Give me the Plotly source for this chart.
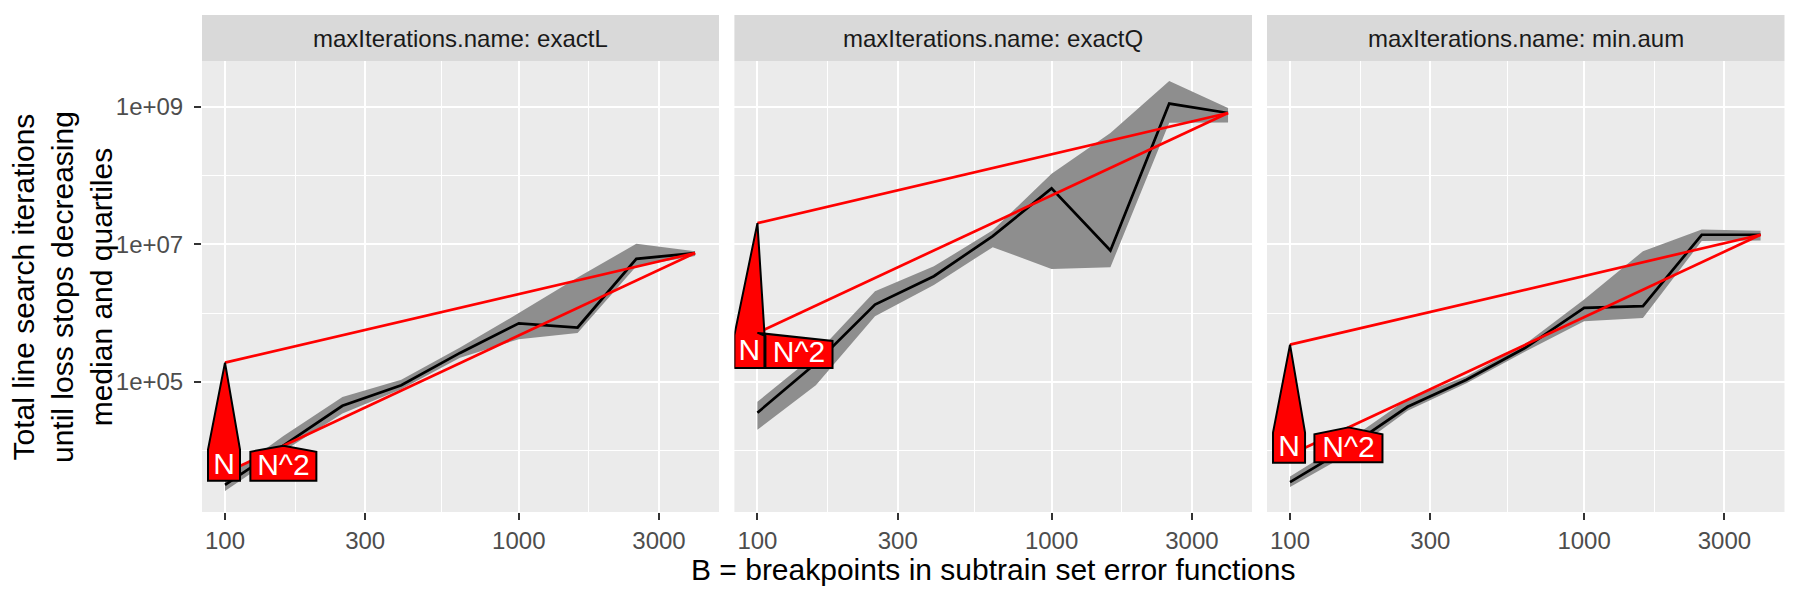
import math
import plotly.graph_objects as go

# ---------------- data ----------------
B = [100, 158, 251, 398, 631, 1000, 1585, 2512, 3981]
panel_names = ["exactL", "exactQ", "min.aum"]

median_exactL = [3160, 11700, 44700, 89100, 263000, 708000, 617000, 6170000, 7480000]
q25_exactL = [2570, 9770, 34700, 77600, 224000, 417000, 513000, 4790000, 6760000]
q75_exactL = [3980, 16200, 60300, 107000, 316000, 1000000, 3300000, 10200000, 7940000]

median_exactQ = [35500, 186000, 1330000, 3440000, 13200000, 65200000, 8150000, 1120000000, 817000000]
q25_exactQ = [20000, 89100, 902000, 2570000, 9120000, 4400000, 4650000, 589000000, 596000000]
q75_exactQ = [51300, 251000, 2080000, 4790000, 16000000, 107000000, 417000000, 2380000000, 966000000]

median_minaum = [3470, 11200, 43300, 107000, 313000, 1190000, 1260000, 13800000, 13800000]
q25_minaum = [2950, 8910, 38000, 95500, 275000, 759000, 851000, 11200000, 11400000]
q75_minaum = [4170, 14100, 56200, 120000, 355000, 1580000, 7940000, 16400000, 15800000]

ref_B = [100, 3981]
refN_exactL = [190000, 7480000]
refN2_exactL = [4700, 7480000]
refN_exactQ = [20400000, 817000000]
refN2_exactQ = [515000, 817000000]
refN_minaum = [347000, 13800000]
refN2_minaum = [8700, 13800000]

ref_labels = ["N", "N^2"]
# B value at which each label points onto its reference line
label_anchor_B = {"exactL": [100, 158], "exactQ": [100, 100], "min.aum": [100, 158]}

x_tick_vals = [100, 300, 1000, 3000]
x_tick_text = ["100", "300", "1000", "3000"]
x_minor_vals = [173.2, 547.7, 1732]
y_tick_vals = [1e5, 1e7, 1e9]
y_tick_text = ["1e+05", "1e+07", "1e+09"]
y_minor_vals = [1e4, 1e6, 1e8]

x_title = "B = breakpoints in subtrain set error functions"
y_title = "Total line search iterations<br>until loss stops decreasing<br>median and quartiles"
strip_prefix = "maxIterations.name: "

series = {
    "exactL": (median_exactL, q25_exactL, q75_exactL, refN_exactL, refN2_exactL),
    "exactQ": (median_exactQ, q25_exactQ, q75_exactQ, refN_exactQ, refN2_exactQ),
    "min.aum": (median_minaum, q25_minaum, q75_minaum, refN_minaum, refN2_minaum),
}

# ---------------- layout / style ----------------
W, H = 1800, 600
FONT = "Liberation Sans, Arial, sans-serif"
panel_px = [(202, 719), (734.4, 1252), (1267, 1784.5)]
panel_top, panel_bottom, strip_top = 61, 512, 15
x_range = [1.9217, 3.6814]
y_range = [3.105, 9.669]
kx = (panel_px[0][1] - panel_px[0][0]) / (x_range[1] - x_range[0])
ky = (panel_bottom - panel_top) / (y_range[1] - y_range[0])

# label box geometry in pixels relative to the tip: (left, right, shoulder_left, shoulder_right, bottom)
label_geom = {
    "exactL": [(-17, 15, 87, 87, 118), (-33, 33, 6, 6, 35)],
    "exactQ": [(-23, 7, 112, 110, 145), (8, 75, 3, 8, 35)],
    "min.aum": [(-17, 15, 88, 88, 118), (-34, 34, 7, 7, 35)],
}

RIBBON = "#8e8e8e"
fig = go.Figure()


def interp_log(xs, ys, xv):
    lx = [math.log10(v) for v in xs]
    ly = [math.log10(v) for v in ys]
    t = (math.log10(xv) - lx[0]) / (lx[1] - lx[0])
    return ly[0] + t * (ly[1] - ly[0])


for i, name in enumerate(panel_names):
    med, lo, hi, rN, rN2 = series[name]
    xa = "x" if i == 0 else f"x{i+1}"
    ya = "y" if i == 0 else f"y{i+1}"
    fig.add_trace(go.Scatter(x=B + B[::-1], y=hi + lo[::-1], fill="toself", fillcolor=RIBBON,
                             mode="lines", line=dict(width=0, color=RIBBON), xaxis=xa, yaxis=ya,
                             hoverinfo="skip", showlegend=False))
    fig.add_trace(go.Scatter(x=B, y=med, mode="lines", line=dict(color="black", width=2.7),
                             xaxis=xa, yaxis=ya, showlegend=False))
    for ref in (rN, rN2):
        fig.add_trace(go.Scatter(x=ref_B, y=ref, mode="lines", line=dict(color="#ff0000", width=2.7),
                                 xaxis=xa, yaxis=ya, showlegend=False))
    for j, (lab, ref) in enumerate(zip(ref_labels, (rN, rN2))):
        ax = label_anchor_B[name][j]
        tx = math.log10(ax)
        ty = interp_log(ref_B, ref, ax)
        L, R, sl, sr, bt = label_geom[name][j]

        def P(dx, dy):
            return 10 ** (tx + dx / kx), 10 ** (ty - dy / ky)

        pts = [P(0, 0), P(R, sr), P(R, bt), P(L, bt), P(L, sl), P(0, 0)]
        fig.add_trace(go.Scatter(x=[p[0] for p in pts], y=[p[1] for p in pts], fill="toself",
                                 fillcolor="#ff0000", mode="lines", line=dict(color="black", width=2),
                                 xaxis=xa, yaxis=ya, hoverinfo="skip", showlegend=False))
        cx, cy = P((L + R) / 2, ((sl + sr) / 2 + bt) / 2 + 1)
        fig.add_trace(go.Scatter(x=[cx], y=[cy], mode="text", text=[lab],
                                 textfont=dict(color="white", size=30, family=FONT),
                                 textposition="middle center", xaxis=xa, yaxis=ya,
                                 hoverinfo="skip", showlegend=False))

ydom = [1 - panel_bottom / H, 1 - panel_top / H]
layout = dict(width=W, height=H, margin=dict(l=0, r=0, t=0, b=0), paper_bgcolor="white",
              plot_bgcolor="#ebebeb", showlegend=False, font=dict(family=FONT))
shapes, annotations = [], []
for i, name in enumerate(panel_names):
    sfx = "" if i == 0 else str(i + 1)
    x0, x1 = panel_px[i]
    layout["xaxis" + sfx] = dict(
        type="log", range=x_range, domain=[x0 / W, x1 / W], anchor="y" + sfx,
        tickvals=x_tick_vals, ticktext=x_tick_text, ticks="outside", ticklen=7, tickwidth=2.2,
        tickcolor="#333333", tickfont=dict(size=24, color="#4d4d4d", family=FONT),
        ticklabelstandoff=0,
        showgrid=True, gridcolor="white", gridwidth=2.2, zeroline=False, showline=False,
        minor=dict(tickvals=x_minor_vals, showgrid=True, gridcolor="white", gridwidth=1.1, ticks=""),
    )
    layout["yaxis" + sfx] = dict(
        type="log", range=y_range, domain=ydom, anchor="x" + sfx,
        tickvals=y_tick_vals, ticktext=y_tick_text, ticks="outside" if i == 0 else "",
        ticklen=7, tickwidth=2.2, tickcolor="#333333", showticklabels=(i == 0),
        tickfont=dict(size=24, color="#4d4d4d", family=FONT), ticklabelstandoff=6,
        showgrid=True, gridcolor="white", gridwidth=2.2, zeroline=False, showline=False,
        minor=dict(tickvals=y_minor_vals, showgrid=True, gridcolor="white", gridwidth=1.1, ticks=""),
    )
    shapes.append(dict(type="rect", xref="paper", yref="paper", x0=x0 / W, x1=x1 / W,
                       y0=1 - panel_top / H, y1=1 - strip_top / H, fillcolor="#d9d9d9",
                       line=dict(width=0), layer="below"))
    annotations.append(dict(xref="paper", yref="paper", x=(x0 + x1) / 2 / W,
                            y=1 - (panel_top + strip_top) / 2 / H, text=strip_prefix + name,
                            showarrow=False, xanchor="center", yanchor="middle",
                            font=dict(size=24, color="#1a1a1a", family=FONT)))

annotations.append(dict(xref="paper", yref="paper", x=(panel_px[0][0] + panel_px[2][1]) / 2 / W,
                        y=1 - 569 / H, text=x_title, showarrow=False, xanchor="center",
                        yanchor="middle", font=dict(size=30, color="black", family=FONT)))
annotations.append(dict(xref="paper", yref="paper", x=63 / W, y=1 - 287 / H, text=y_title,
                        textangle=-90, showarrow=False, xanchor="center", yanchor="middle",
                        align="center", font=dict(size=30, color="black", family=FONT)))
layout["shapes"] = shapes
layout["annotations"] = annotations
fig.update_layout(**layout)
fig.write_html("out.html")
